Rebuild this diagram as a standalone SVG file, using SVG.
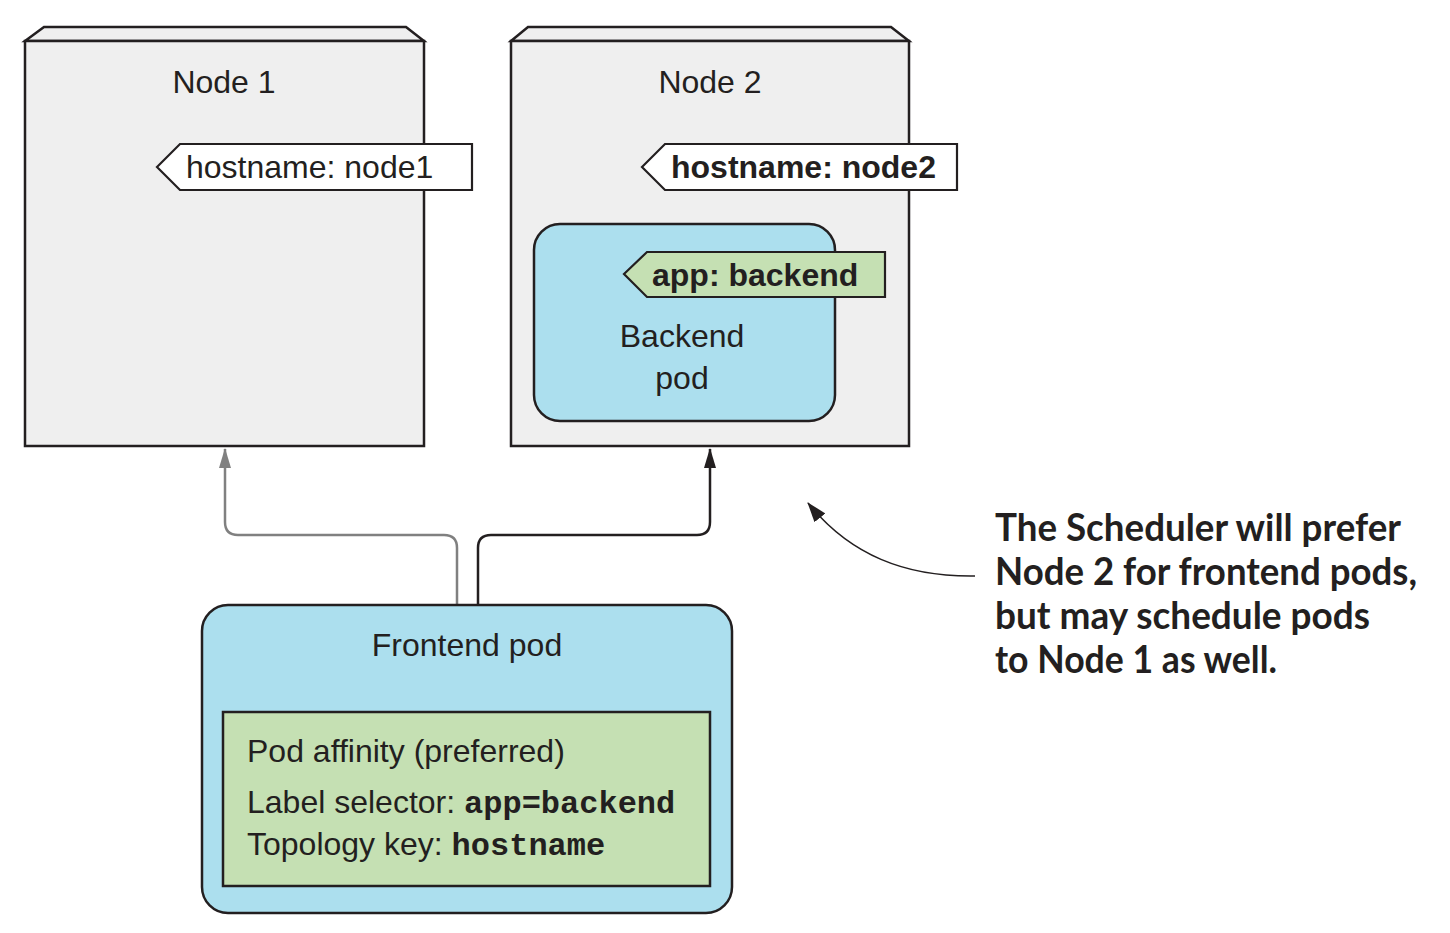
<svg xmlns="http://www.w3.org/2000/svg" width="1450" height="933" viewBox="0 0 1450 933">
<style>
.box{fill:#efefef;stroke:#231f20;stroke-width:2.5}
.pod{fill:#acdfee;stroke:#231f20;stroke-width:2.5}
.tag{fill:#ffffff;stroke:#231f20;stroke-width:2.2}
.gtag{fill:#c5e0b3;stroke:#231f20;stroke-width:2.2}
.t{font-family:"Liberation Sans",Arial,sans-serif;font-size:32px;fill:#231f20}
.b{font-weight:bold}
.m{font-family:"Liberation Mono","Courier New",monospace;font-weight:bold;font-size:32px;fill:#231f20}
.note{font-family:Lato,"Open Sans",sans-serif;font-weight:bold;font-size:38px;fill:#231f20}
</style>
<defs>
<marker id="ag" viewBox="0 0 20 12" refX="19" refY="6" markerWidth="20" markerHeight="12" orient="auto" markerUnits="userSpaceOnUse"><path d="M0,0 L20,6 L0,12 z" fill="#808080"/></marker>
<marker id="ak" viewBox="0 0 20 12" refX="19" refY="6" markerWidth="20" markerHeight="12" orient="auto" markerUnits="userSpaceOnUse"><path d="M0,0 L20,6 L0,12 z" fill="#231f20"/></marker>
<marker id="ac" viewBox="0 0 20 14" refX="19" refY="7" markerWidth="20" markerHeight="14" orient="auto" markerUnits="userSpaceOnUse"><path d="M0,0 L20,7 L0,14 z" fill="#231f20"/></marker>
</defs>

<g id="connectors" fill="none">
<path d="M457,605 V548 Q457,535 444,535 H238 Q225,535 225,522 V449" stroke="#808080" stroke-width="2.5" marker-end="url(#ag)"/>
<path d="M478,605 V548 Q478,535 491,535 H697 Q710,535 710,522 V449" stroke="#231f20" stroke-width="2.5" marker-end="url(#ak)"/>
<path d="M975,576 C905,577 850,555 808,503" stroke="#231f20" stroke-width="1.5" marker-end="url(#ac)"/>
</g>

<g id="node1">
<path class="box" d="M25,41 L44,27 L406,27 L424,41 Z"/>
<rect class="box" x="25" y="41" width="399" height="405"/>
<text class="t" x="224" y="93" text-anchor="middle">Node 1</text>
</g>
<g id="label-node1">
<path class="tag" d="M157,167 L180,144 L472,144 L472,190 L180,190 Z"/>
<text class="t" x="186" y="178">hostname: node1</text>
</g>

<g id="node2">
<path class="box" d="M511,41 L528,27 L891,27 L909,41 Z"/>
<rect class="box" x="511" y="41" width="398" height="405"/>
<text class="t" x="710" y="93" text-anchor="middle">Node 2</text>
</g>
<g id="label-node2">
<path class="tag" d="M642,167 L665,144 L957,144 L957,190 L665,190 Z"/>
<text class="t b" x="671" y="178">hostname: node2</text>
</g>

<g id="backend-pod">
<rect class="pod" x="534" y="224" width="301" height="197" rx="26"/>
<text class="t" x="682" y="347" text-anchor="middle">Backend</text>
<text class="t" x="682" y="389" text-anchor="middle">pod</text>
</g>
<g id="label-backend">
<path class="gtag" d="M624,274 L647,252 L885,252 L885,297 L647,297 Z"/>
<text class="t b" x="652" y="286">app: backend</text>
</g>

<g id="frontend-pod">
<rect class="pod" x="202" y="605" width="530" height="308" rx="26"/>
<text class="t" x="467" y="656" text-anchor="middle">Frontend pod</text>
</g>
<g id="affinity">
<rect x="223" y="712" width="487" height="174" fill="#c5e0b3" stroke="#231f20" stroke-width="2.5"/>
<text class="t" x="247" y="762">Pod affinity (preferred)</text>
<text class="t" x="247" y="813">Label selector: <tspan class="m">app=backend</tspan></text>
<text class="t" x="247" y="855">Topology key: <tspan class="m">hostname</tspan></text>
</g>

<g id="annotation">
<text class="note" x="995" y="541" textLength="406" lengthAdjust="spacingAndGlyphs">The Scheduler will prefer</text>
<text class="note" x="995" y="585" textLength="422" lengthAdjust="spacingAndGlyphs">Node 2 for frontend pods,</text>
<text class="note" x="995" y="629" textLength="375" lengthAdjust="spacingAndGlyphs">but may schedule pods</text>
<text class="note" x="995" y="673" textLength="282" lengthAdjust="spacingAndGlyphs">to Node 1 as well.</text>
</g>
</svg>
